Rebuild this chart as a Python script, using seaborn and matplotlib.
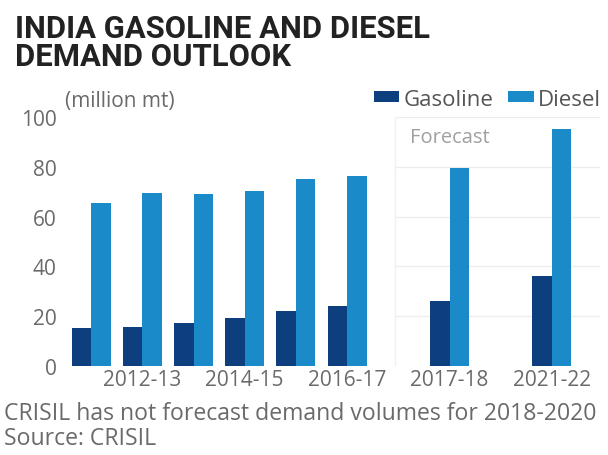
import matplotlib
matplotlib.use("Agg")
import matplotlib.pyplot as plt
import seaborn as sns
import pandas as pd

# Demand in million metric tonnes
years = ["2011-12", "2012-13", "2013-14", "2014-15", "2015-16", "2016-17", "2017-18", "2021-22"]
gasoline = [15.2, 15.8, 17.4, 19.2, 22.0, 24.2, 26.2, 36.2]
diesel = [65.4, 69.4, 68.9, 70.1, 75.2, 76.2, 79.5, 95.3]
shown_labels = ["2012-13", "2014-15", "2016-17", "2017-18", "2021-22"]
series = ["Gasoline", "Diesel"]
colors = ["#0d3f7e", "#1a8ac8"]

df = pd.DataFrame({"year": years * 2,
                   "fuel": [series[0]] * len(years) + [series[1]] * len(years),
                   "demand": gasoline + diesel})

# empty slots separate the actual years from the forecast years
order = years[:6] + [" "] + [years[6]] + ["  "] + [years[7]]

sns.set_theme(style="white")
plt.rcParams["font.family"] = ["Open Sans", "DejaVu Sans"]

fig = plt.figure(figsize=(6.08, 4.56), dpi=100)
ax = fig.add_axes([62 / 608, 1 - 367 / 456, 538 / 608, 249 / 456])

sns.barplot(data=df, x="year", y="demand", hue="fuel", order=order,
            hue_order=series, palette=colors, width=0.76, saturation=1,
            linewidth=0, ax=ax, legend=True)

ax.set_ylim(0, 100)
ax.set_xlim(-0.57, 9.94)
ax.set_yticks([0, 20, 40, 60, 80, 100])
ax.set_xticks(range(len(order)))
ax.set_xticklabels([lab if lab in shown_labels else "" for lab in order])
ax.tick_params(axis="both", length=0, labelsize=15, labelcolor="#6a6a6a")
ax.tick_params(axis="x", pad=2)
ax.tick_params(axis="y", pad=4)
ax.set_xlabel("")
ax.set_ylabel("")
sns.despine(ax=ax, left=True, bottom=True)

# faint grid and divider over the forecast region
for v in [20, 40, 60, 80, 100]:
    ax.hlines(v, 5.94, 9.94, color="#ededed", lw=1, zorder=0)
ax.vlines(5.94, 0, 100, color="#f1f1f1", lw=1, zorder=0)
ax.text(6.23, 92, "Forecast", color="#a0a0a0", fontsize=14.5, va="center")

sns.move_legend(ax, "center right", bbox_to_anchor=(601 / 608, 1 - 100 / 456),
                bbox_transform=fig.transFigure, ncol=2, frameon=False,
                title=None, fontsize=16, handlelength=1.15, handleheight=0.4,
                handletextpad=0.2, columnspacing=0.65, borderaxespad=0,
                borderpad=0)
for t in ax.get_legend().get_texts():
    t.set_color("#555555")

fig.text(65 / 608, 1 - 102 / 456, "(million mt)", color="#6a6a6a",
         fontsize=15, va="center", ha="left")

# two-line title; the anchor is the baseline of the second line
fig.text(15 / 608, 1 - 66 / 456, "INDIA GASOLINE AND DIESEL\nDEMAND OUTLOOK",
         fontsize=22.3, fontweight="bold", color="#222222", ha="left",
         va="baseline", linespacing=0.92, family=["Roboto", "DejaVu Sans"])

fig.text(4 / 608, 1 - 414 / 456, "CRISIL has not forecast demand volumes for 2018-2020",
         fontsize=16.6, color="#6a6a6a", ha="left", va="center")
fig.text(4 / 608, 1 - 439 / 456, "Source: CRISIL",
         fontsize=16.6, color="#6a6a6a", ha="left", va="center")

fig.savefig("out.png", dpi=100)
